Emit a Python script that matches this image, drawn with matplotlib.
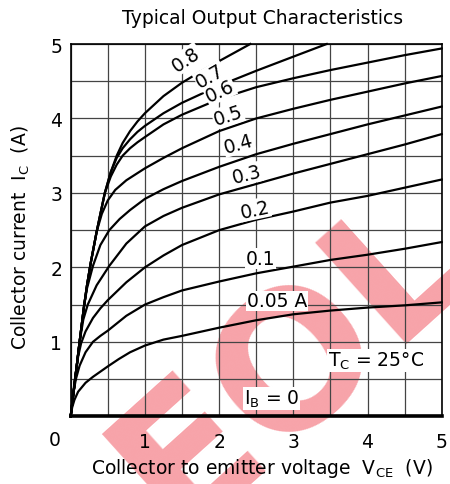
import numpy as np
import matplotlib
matplotlib.use('Agg')
import matplotlib.pyplot as plt

plt.rcParams['font.family'] = ['DejaVu Sans']
plt.rcParams['mathtext.default'] = 'regular'

# base current curves (V_CE in V, I_C in A)
ib_labels = ['0.8', '0.7', '0.6', '0.5', '0.4', '0.3', '0.2', '0.1', '0.05 A']

vce_08 = [0, 0.06, 0.12, 0.18, 0.22, 0.27, 0.35, 0.46, 0.54, 0.62, 0.7, 0.8, 0.9, 1.0,
          1.25, 1.5, 1.75, 2.0, 2.42]
ic_08 = [0, 0.5, 1.0, 1.48, 1.76, 2.06, 2.48, 3.0, 3.28, 3.5, 3.67, 3.83, 3.96, 4.07,
         4.3, 4.48, 4.63, 4.77, 5.0]

vce_07 = [0, 0.06, 0.12, 0.18, 0.22, 0.27, 0.35, 0.46, 0.54, 0.62, 0.7, 0.8, 0.9, 1.0,
          1.25, 1.5, 2.0, 2.5, 3.0, 3.45]
ic_07 = [0, 0.5, 1.0, 1.48, 1.76, 2.06, 2.48, 3.0, 3.28, 3.47, 3.6, 3.72, 3.82, 3.9,
         4.07, 4.21, 4.44, 4.64, 4.83, 5.0]

vce_06 = [0, 0.06, 0.12, 0.18, 0.22, 0.27, 0.35, 0.46, 0.54, 0.62, 0.7, 0.8, 0.9, 1.0,
          1.25, 1.5, 2.0, 2.5, 3.0, 3.5, 4.0, 4.5, 5.0]
ic_06 = [0, 0.5, 1.0, 1.48, 1.76, 2.06, 2.48, 3.0, 3.22, 3.38, 3.5, 3.6, 3.68, 3.75,
         3.92, 4.05, 4.26, 4.42, 4.54, 4.65, 4.75, 4.85, 4.94]

vce_05 = [0, 0.06, 0.12, 0.18, 0.22, 0.27, 0.35, 0.42, 0.5, 0.6, 0.75, 1.0, 1.25, 1.5,
          2.0, 2.5, 3.0, 3.5, 4.0, 4.5, 5.0]
ic_05 = [0, 0.5, 1.0, 1.48, 1.76, 2.06, 2.48, 2.72, 2.9, 3.04, 3.17, 3.33, 3.47, 3.6,
         3.83, 4.0, 4.13, 4.25, 4.36, 4.47, 4.57]

vce_04 = [0, 0.06, 0.12, 0.18, 0.22, 0.3, 0.4, 0.52, 0.66, 0.8, 1.0, 1.25, 1.5, 2.0,
          2.5, 3.0, 3.5, 4.0, 4.5, 5.0]
ic_04 = [0, 0.5, 1.0, 1.48, 1.72, 2.02, 2.3, 2.5, 2.65, 2.77, 2.92, 3.05, 3.16, 3.35,
         3.52, 3.66, 3.79, 3.92, 4.04, 4.16]

vce_03 = [0, 0.06, 0.12, 0.17, 0.23, 0.35, 0.52, 0.75, 1.0, 1.25, 1.5, 2.0, 2.5, 3.0,
          3.5, 4.0, 4.5, 5.0]
ic_03 = [0, 0.5, 1.0, 1.3, 1.5, 1.76, 2.02, 2.32, 2.55, 2.69, 2.8, 2.98, 3.12, 3.26,
         3.39, 3.52, 3.65, 3.79]

vce_02 = [0, 0.05, 0.1, 0.14, 0.2, 0.3, 0.4, 0.5, 0.75, 1.0, 1.25, 1.5, 2.0, 2.5, 3.0,
          3.5, 4.0, 4.5, 5.0]
ic_02 = [0, 0.45, 0.8, 0.98, 1.14, 1.32, 1.45, 1.56, 1.8, 2.0, 2.16, 2.3, 2.5, 2.64,
         2.75, 2.87, 2.96, 3.07, 3.18]

vce_01 = [0, 0.03, 0.07, 0.12, 0.2, 0.3, 0.4, 0.5, 0.75, 1.0, 1.25, 1.5, 2.0, 2.5, 3.0,
          3.5, 4.0, 4.5, 5.0]
ic_01 = [0, 0.28, 0.5, 0.68, 0.86, 1.0, 1.08, 1.15, 1.35, 1.5, 1.6, 1.69, 1.81, 1.92,
         2.01, 2.1, 2.17, 2.25, 2.34]

vce_005 = [0, 0.02, 0.05, 0.1, 0.2, 0.3, 0.4, 0.5, 0.65, 0.8, 1.0, 1.25, 1.5, 2.0, 2.5,
           3.0, 3.5, 4.0, 4.5, 5.0]
ic_005 = [0, 0.12, 0.22, 0.33, 0.45, 0.53, 0.6, 0.67, 0.77, 0.86, 0.95, 1.03, 1.08, 1.19,
          1.29, 1.37, 1.42, 1.46, 1.49, 1.53]

vce_0 = [0, 5.0]
ic_0 = [0, 0]

curves = [(vce_08, ic_08), (vce_07, ic_07), (vce_06, ic_06), (vce_05, ic_05),
          (vce_04, ic_04), (vce_03, ic_03), (vce_02, ic_02), (vce_01, ic_01),
          (vce_005, ic_005)]

# where the curve labels sit and how they lean
lab_x = [1.56, 1.88, 2.01, 2.12, 2.26, 2.37, 2.48, 2.56, 2.78]
lab_y = [4.80, 4.57, 4.37, 4.04, 3.66, 3.25, 2.78, 2.12, 1.55]
lab_rot = [34, 30, 25, 18, 16, 14, 12, 0, 0]

W, H = 450, 485
fig = plt.figure(figsize=(W / 100, H / 100), dpi=100)
ax = fig.add_axes([70.7 / W, 1 - 417.3 / H, (441.7 - 70.7) / W, (417.3 - 45) / H])

fs = 13.5
# EOL watermark, under the grid
ax.text(0.60, 0.15, 'EOL', transform=ax.transAxes, rotation=42, fontsize=135,
        fontweight='bold', color='#f7a3a9', ha='center', va='center',
        clip_on=False, zorder=0.2)

ax.set_xlim(0, 5)
ax.set_ylim(0, 5)
ax.set_axisbelow(True)
ax.set_xticks(np.arange(0, 5.01, 0.5), minor=True)
ax.set_yticks(np.arange(0, 5.01, 0.5), minor=True)
ax.set_xticks([1, 2, 3, 4, 5])
ax.set_yticks([1, 2, 3, 4, 5])
ax.grid(True, which='both', color='#444444', linewidth=0.9)
ax.tick_params(which='both', length=0, labelsize=fs)
ax.tick_params(axis='x', pad=11)
ax.tick_params(axis='y', pad=6)
ax.patch.set_alpha(0)
for s in ax.spines.values():
    s.set_linewidth(1.2)
    s.set_zorder(3)

for (xv, yv) in curves:
    ax.plot(xv, yv, color='black', lw=1.6, zorder=2, clip_on=False,
            solid_joinstyle='round')
ax.plot(vce_0, ic_0, color='black', lw=2.6, zorder=3, clip_on=False)

for t, x, y, r in zip(ib_labels, lab_x, lab_y, lab_rot):
    ax.text(x, y, t, fontsize=fs, rotation=r, ha='center', va='center', zorder=4,
            rotation_mode='anchor',
            bbox=dict(facecolor='white', edgecolor='none', pad=0.5))

ax.text(4.11, 0.75, 'T$_C$ = 25°C', fontsize=fs, ha='center', va='center', zorder=4,
        bbox=dict(facecolor='white', edgecolor='none', pad=0.5))
ax.text(2.71, 0.24, 'I$_B$ = 0', fontsize=fs, ha='center', va='center', zorder=4,
        bbox=dict(facecolor='white', edgecolor='none', pad=0.5))
ax.text(-0.21, -0.31, '0', fontsize=fs, ha='center', va='center', clip_on=False)

fig.text(263 / W, 1 - 18 / H, 'Typical Output Characteristics', fontsize=fs,
         ha='center', va='center')
fig.text(262 / W, 1 - 469 / H, 'Collector to emitter voltage  V$_{CE}$  (V)',
         fontsize=fs, ha='center', va='center')
fig.text(21 / W, 1 - 238 / H, 'Collector current  I$_C$  (A)', fontsize=fs,
         rotation=90, ha='center', va='center')

fig.savefig('out.png', dpi=100, facecolor='white')
